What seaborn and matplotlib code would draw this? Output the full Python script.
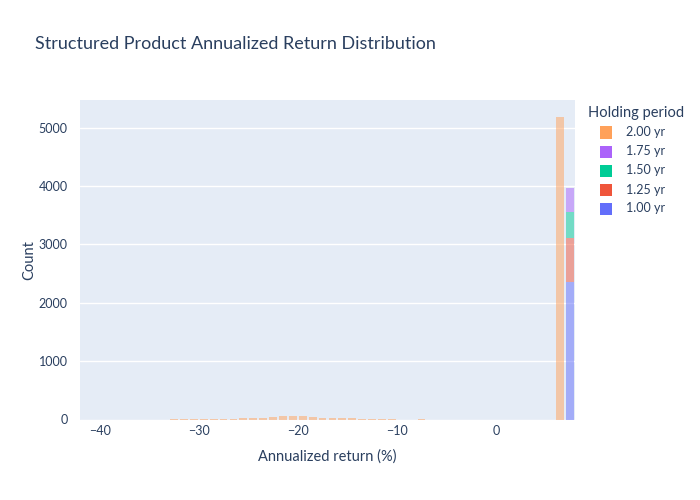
import numpy as np
import pandas as pd
import matplotlib
matplotlib.use("Agg")
import matplotlib.pyplot as plt
from matplotlib.patches import Rectangle
import seaborn as sns

# ---- data (counts per 1%-wide bin, bins from -42% to 8%) ----
bin_left_edges = list(range(-42, 8))  # 50 bins
periods = ["2.00 yr", "1.75 yr", "1.50 yr", "1.25 yr", "1.00 yr"]
colors = ["#FFA15A", "#AB63FA", "#00CC96", "#EF553B", "#636EFA"]

counts_200 = [0, 0, 0, 0, 0, 0, 0, 0, 0,          # -42 .. -34
              8, 10, 12, 13, 14, 15, 17, 26,       # -33 .. -26
              28, 30, 45, 68, 66, 52, 35, 34,      # -25 .. -18
              33, 32, 30, 16, 15, 14, 12,          # -17 .. -11
              0, 0, 12,                            # -10 .. -8
              0, 0, 0, 0, 0, 0, 0, 0, 0, 0, 0, 0, 0,  # -7 .. 5
              5190, 0]                             # 6, 7
counts_175 = [0] * 49 + [399]
counts_150 = [0] * 49 + [451]
counts_125 = [0] * 49 + [748]
counts_100 = [0] * 49 + [2363]

series = {
    "2.00 yr": counts_200,
    "1.75 yr": counts_175,
    "1.50 yr": counts_150,
    "1.25 yr": counts_125,
    "1.00 yr": counts_100,
}

rows = []
for p, cnts in series.items():
    for e, c in zip(bin_left_edges, cnts):
        rows.append({"ret": e + 0.5, "count": c, "period": p})
df = pd.DataFrame(rows)

# ---- figure ----
sns.set_theme(style="white")
FONT = ["Lato", "DejaVu Sans"]
plt.rcParams["font.family"] = FONT
TXT = "#2a3f5f"

fig = plt.figure(figsize=(7, 5), dpi=100)
ax = fig.add_axes([80 / 700, 1 - 419.5 / 500, 495 / 700, 319.5 / 500])
ax.set_facecolor("#E5ECF6")

sns.histplot(data=df, x="ret", weights="count", hue="period",
             hue_order=periods, palette=dict(zip(periods, colors)),
             multiple="stack", binwidth=1, binrange=(-42, 8), shrink=0.78,
             alpha=0.5, linewidth=0, legend=False, ax=ax, zorder=3)

ax.set_xlim(-42, 8)
ax.set_ylim(0, 5475)
ax.set_yticks([0, 1000, 2000, 3000, 4000, 5000])
ax.set_xticks([-40, -30, -20, -10, 0])
ax.grid(axis="y", color="white", linewidth=1.0, zorder=0)
ax.grid(axis="x", visible=False)
ax.set_axisbelow(True)
for s in ax.spines.values():
    s.set_visible(False)
ax.tick_params(axis="both", length=0, labelsize=9, colors=TXT)
ax.tick_params(axis="y", pad=9)
ax.tick_params(axis="x", pad=4)
ax.set_xlabel("Annualized return (%)", fontsize=10.5, color=TXT, labelpad=9)
ax.set_ylabel("Count", fontsize=10.5, color=TXT, labelpad=1.5)

fig.text(35 / 700, 1 - 44 / 500, "Structured Product Annualized Return Distribution",
         fontsize=13, color=TXT, va="center", ha="left")

# legend
fig.text(588 / 700, 1 - 113 / 500, "Holding period", fontsize=10.5, color=TXT,
         va="center", ha="left")
for i, (p, c) in enumerate(zip(periods, colors)):
    yc = 132.5 + 19 * i
    fig.patches.append(Rectangle((600 / 700, 1 - (yc + 6) / 500), 12 / 700, 12 / 500,
                                 transform=fig.transFigure, facecolor=c,
                                 edgecolor="none", figure=fig))
    fig.text(626 / 700, 1 - yc / 500, p, fontsize=9, color=TXT, va="center", ha="left")

fig.savefig("out.png", dpi=100, facecolor="white")
